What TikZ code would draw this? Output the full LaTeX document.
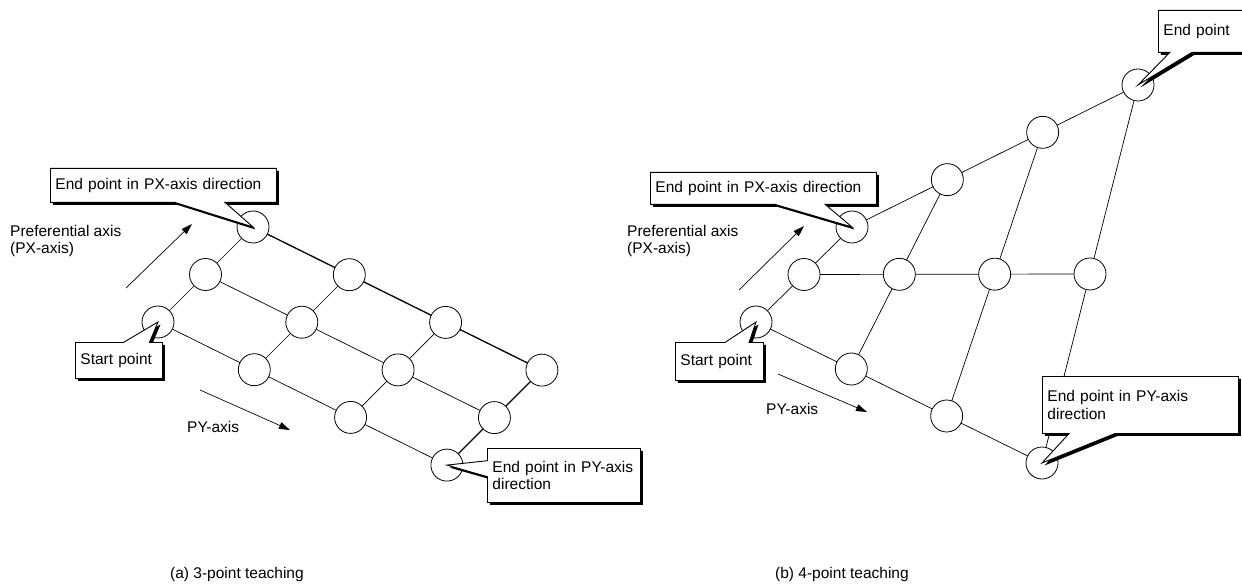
\documentclass[tikz,border=0pt]{standalone}
\usepackage{fontspec}
\setmainfont{Liberation Sans}
\usetikzlibrary{arrows.meta,shapes.callouts,shadows}
\newcommand\lblfont{\fontsize{15.5}{17.5}\selectfont}

\begin{document}
\begin{tikzpicture}[x=1pt, y=-1pt,
  tpoint/.style={circle, draw, line width=0.8pt, fill=white,
    minimum size=32pt, inner sep=0pt},
  gridline/.style={line width=0.7pt},
  teachline/.style={line width=1.3pt},
  lbl/.style={font=\lblfont, align=left, inner sep=0pt},
  callbox/.style={rectangle callout, draw, fill=white, line width=0.9pt,
    font=\lblfont, align=left, anchor=north west, inner xsep=5pt,
    inner ysep=2pt,
    drop shadow={shadow xshift=2.5pt, shadow yshift=-2.5pt,
      fill=black, opacity=1}},
  axisarrow/.style={-{Triangle[length=11pt,width=7pt]}, line width=0.7pt}
]
  \useasboundingbox (0,0) rectangle (1242,585);

  % (a) 3-point teaching
  \foreach \i in {0,1,2}
    \foreach \j in {0,...,3}
      \coordinate (a\i\j) at ({158+47.5*\i+96.3*\j},{322-47.5*\i+47.7*\j});
  \foreach \i in {0,1}
    \foreach \j [count=\k] in {0,1,2}
      \draw[gridline] (a\i\j) -- (a\i\k);
  \foreach \i [count=\k] in {0,1}
    \foreach \j in {0,1,2}
      \draw[gridline] (a\i\j) -- (a\k\j);
  \draw[teachline] (a20) -- (a21) -- (a22) -- (a23) -- (a13) -- (a03);
  \foreach \i in {0,1,2}
    \foreach \j in {0,...,3}
      \node[tpoint] (na\i\j) at (a\i\j) {};

  \node[lbl, anchor=north west] (pxa) at (10,225) {Preferential axis\\(PX-axis)};
  \coordinate (pxa0) at (126,288);
  \coordinate (pxa1) at (192,224);
  \draw[axisarrow] (pxa0) -- (pxa1);
  \node[lbl, anchor=west] (pya) at (187,427) {PY-axis};
  \coordinate (pya0) at (200,390);
  \coordinate (pya1) at (290,430);
  \draw[axisarrow] (pya0) -- (pya1);

  \node[callbox, text width=216pt, minimum height=34pt,
    callout pointer width=50pt, callout absolute pointer={(na20.center)}]
    (apx) at (50,168) {End point in PX-axis direction};
  \node[callbox, text width=77pt, minimum height=36pt,
    callout pointer width=26pt, callout absolute pointer={(na00.center)}]
    (ast) at (75,342) {Start point};
  \node[callbox, text width=143pt, minimum height=54pt,
    callout pointer width=16pt, callout absolute pointer={(na03.center)}]
    (apy) at (487,448) {End point in PY-axis\\direction};

  % (b) 4-point teaching
  \foreach \i in {0,1,2}
    \foreach \j in {0,...,3}
      \coordinate (b\i\j) at ({756+48*\i+95.33*\j},{322-47.5*\i+\j*(47-47.17*\i)});
  \foreach \i in {0,1,2}
    \foreach \j [count=\k] in {0,1,2}
      \draw[gridline] (b\i\j) -- (b\i\k);
  \foreach \i [count=\k] in {0,1}
    \foreach \j in {0,...,3}
      \draw[gridline] (b\i\j) -- (b\k\j);
  \foreach \i in {0,1,2}
    \foreach \j in {0,...,3}
      \node[tpoint] (nb\i\j) at (b\i\j) {};

  \node[lbl, anchor=north west] (pxb) at (627,225) {Preferential axis\\(PX-axis)};
  \coordinate (pxb0) at (739,290);
  \coordinate (pxb1) at (804,226);
  \draw[axisarrow] (pxb0) -- (pxb1);
  \node[lbl, anchor=west] (pyb) at (766,409) {PY-axis};
  \coordinate (pyb0) at (778,374);
  \coordinate (pyb1) at (867,412);
  \draw[axisarrow] (pyb0) -- (pyb1);

  \node[callbox, text width=216pt, minimum height=32pt,
    callout pointer width=50pt, callout absolute pointer={(nb20.center)}]
    (bpx) at (650,172) {End point in PX-axis direction};
  \node[callbox, text width=78pt, minimum height=38pt,
    callout pointer width=24pt, callout absolute pointer={(nb00.center)}]
    (bst) at (675,342) {Start point};
  \node[callbox, text width=90pt, minimum height=42pt,
    callout pointer width=22pt, callout absolute pointer={(nb23.center)}]
    (ben) at (1158,10) {End point};
  \node[callbox, text width=186pt, minimum height=57pt,
    callout pointer width=46pt, callout absolute pointer={(nb03.center)}]
    (bpy) at (1042,376) {End point in PY-axis\\direction};

  % captions
  \node[lbl, anchor=west] (capa) at (170,574) {(a) 3-point teaching};
  \node[lbl, anchor=west] (capb) at (775,574) {(b) 4-point teaching};
\end{tikzpicture}
\end{document}
